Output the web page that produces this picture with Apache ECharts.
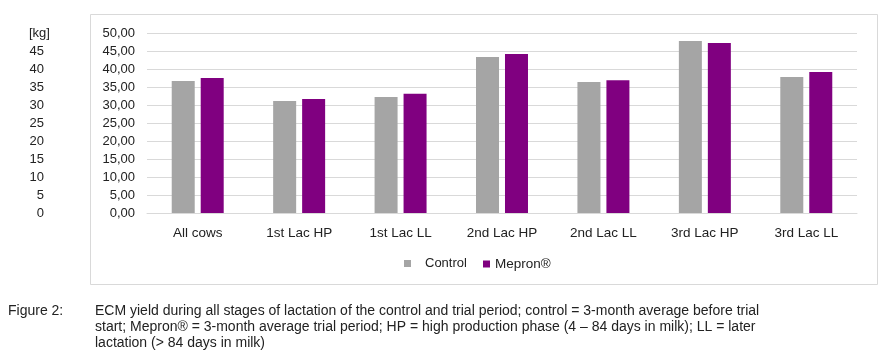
<!DOCTYPE html>
<html>
<head>
<meta charset="utf-8">
<script src="https://cdn.jsdelivr.net/npm/echarts@6/dist/echarts.min.js"></script>
<style>
  html, body { margin: 0; padding: 0; background: #fff; }
  #main { width: 893px; height: 353px; }
</style>
</head>
<body>
<div id="main"></div>
<script>
// stages of lactation
var categories = ['All cows', '1st Lac HP', '1st Lac LL', '2nd Lac HP', '2nd Lac LL', '3rd Lac HP', '3rd Lac LL'];
// ECM yield [kg]
var controlValues = [36.7, 31.1, 32.2, 43.3, 36.4, 47.8, 37.8];
var mepronValues = [37.5, 31.7, 33.1, 44.2, 36.9, 47.2, 39.2];
var seriesNames = ['Control', 'Mepron®'];
var captionLabel = 'Figure 2:';
var captionLines = [
  'ECM yield during all stages of lactation of the control and trial period; control = 3-month average before trial',
  'start; Mepron® = 3-month average trial period; HP = high production phase (4 – 84 days in milk); LL = later',
  'lactation (> 84 days in milk)'
];

var font = '"Liberation Sans", Arial, sans-serif';

var chart = echarts.init(document.getElementById('main'));

var option = {
  animation: false,
  backgroundColor: '#fff',
  textStyle: { fontFamily: font },
  title: [
    {
      text: captionLabel,
      left: 8,
      top: 303,
      padding: 0,
      textStyle: { fontFamily: font, fontSize: 14, fontWeight: 'normal', color: '#222', lineHeight: 16 }
    },
    {
      text: captionLines.join('\n'),
      left: 95,
      top: 303,
      padding: 0,
      textStyle: { fontFamily: font, fontSize: 14, fontWeight: 'normal', color: '#222', lineHeight: 16 }
    }
  ],
  graphic: [
    {
      type: 'rect',
      shape: { x: 90.5, y: 14.5, width: 787, height: 270 },
      style: { fill: 'none', stroke: '#d9d9d9', lineWidth: 1 },
      z: -1
    }
  ],
  // two legends: Excel puts a wider gap after the Control swatch
  legend: [
    {
      data: [seriesNames[0]],
      left: 404,
      top: 257,
      padding: 0,
      itemWidth: 7,
      itemHeight: 7,
      icon: 'rect',
      textStyle: { fontFamily: font, fontSize: 13, color: '#222', padding: [0, 0, 0, 9] }
    },
    {
      data: [seriesNames[1]],
      left: 483,
      top: 257,
      padding: 0,
      itemWidth: 7,
      itemHeight: 7,
      icon: 'rect',
      textStyle: { fontFamily: font, fontSize: 13.5, color: '#222' }
    }
  ],
  grid: {
    left: 147,
    right: 36,
    top: 33,
    bottom: 140
  },
  xAxis: {
    type: 'category',
    data: categories,
    axisLine: { lineStyle: { color: '#d9d9d9' } },
    axisTick: { show: false },
    axisLabel: { color: '#222', fontSize: 13.5, margin: 13 }
  },
  yAxis: [
    {
      type: 'value',
      min: 0,
      max: 50,
      interval: 5,
      axisLine: { show: false },
      axisTick: { show: false },
      splitLine: { lineStyle: { color: '#d9d9d9' } },
      axisLabel: {
        color: '#222',
        fontSize: 13,
        margin: 12,
        formatter: function (v) { return v.toFixed(2).replace('.', ','); }
      }
    },
    {
      type: 'value',
      position: 'left',
      min: 0,
      max: 50,
      interval: 5,
      axisLine: { show: false },
      axisTick: { show: false },
      splitLine: { show: false },
      axisLabel: {
        color: '#222',
        fontSize: 13,
        align: 'left',
        margin: 118,
        formatter: function (v) {
          return v === 50 ? '{k|[kg]}' : '{n|' + v + '}';
        },
        rich: {
          k: { fontSize: 13, color: '#222', align: 'left' },
          n: { fontSize: 13, color: '#222', width: 15, align: 'right' }
        }
      }
    }
  ],
  series: [
    {
      name: seriesNames[0],
      type: 'bar',
      data: controlValues,
      barWidth: 23,
      barGap: '26%',
      itemStyle: { color: '#a5a5a5' }
    },
    {
      name: seriesNames[1],
      type: 'bar',
      data: mepronValues,
      barWidth: 23,
      itemStyle: { color: '#800080' }
    }
  ]
};

chart.setOption(option);
</script>
</body>
</html>
